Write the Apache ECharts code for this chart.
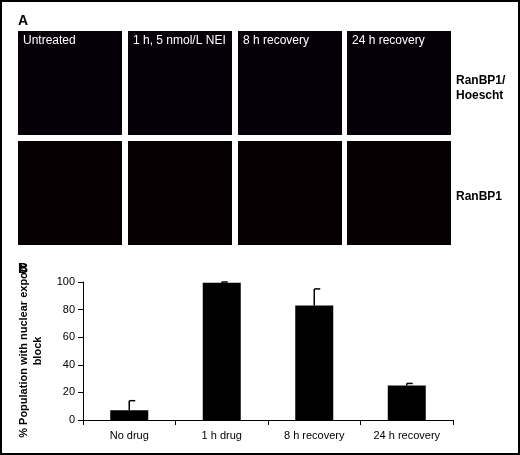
<!DOCTYPE html>
<html><head><meta charset="utf-8">
<script src="https://cdn.jsdelivr.net/npm/echarts@6/dist/echarts.min.js"></script>
<style>html,body{margin:0;padding:0;background:#fff}#c{width:520px;height:455px}</style>
</head><body><div id="c"></div>
<script>
var categories = ['No drug', '1 h drug', '8 h recovery', '24 h recovery'];
var values = [7, 99.5, 83, 25];
var errUpper = [14, 100, 95, 26.5];
var yTicks = [0, 20, 40, 60, 80, 100];
var panelTitles = ['Untreated', '1 h, 5 nmol/L NEI', '8 h recovery', '24 h recovery'];

var chart = echarts.init(document.getElementById('c'));
var font = 'Liberation Sans, Arial, sans-serif';

var panels = [];
var px = [18, 128, 238, 347];
px.forEach(function (x, i) {
    panels.push({ type: 'rect', shape: { x: x, y: 31, width: 104, height: 104 }, style: { fill: '#050008' } });
    panels.push({ type: 'rect', shape: { x: x, y: 141, width: 104, height: 104 }, style: { fill: '#060002' } });
    panels.push({ type: 'text', left: x + 5, top: 35, style: { text: panelTitles[i], fill: '#fff', font: '12px ' + font } });
});

var option = {
    backgroundColor: '#fff',
    animation: false,
    grid: { left: 83, right: 67, top: 282, bottom: 35 },
    xAxis: {
        type: 'category',
        data: categories,
        axisLine: { lineStyle: { color: '#000' } },
        axisTick: { show: true, lineStyle: { color: '#000' } },
        axisLabel: { color: '#000', fontSize: 11, fontFamily: font, margin: 10 }
    },
    yAxis: {
        type: 'value', min: 0, max: 100, interval: 20,
        name: '% Population with nuclear export\nblock',
        nameLocation: 'middle', nameGap: 38, nameRotate: 90,
        nameTextStyle: { color: '#000', fontSize: 11, fontWeight: 'bold', fontFamily: font, lineHeight: 14 },
        splitLine: { show: false },
        axisLine: { show: true, lineStyle: { color: '#000' } },
        axisTick: { show: true, lineStyle: { color: '#000' } },
        axisLabel: { color: '#000', fontSize: 11, fontFamily: font,
            formatter: function (v) { return yTicks.indexOf(v) >= 0 ? v : ''; } }
    },
    series: [{
        type: 'bar', data: values, barWidth: 38,
        itemStyle: { color: '#000' }
    }, {
        type: 'custom',
        data: categories.map(function (c, i) { return [i, values[i], errUpper[i]]; }),
        renderItem: function (params, api) {
            var b = api.coord([api.value(0), api.value(1)]);
            var t = api.coord([api.value(0), api.value(2)]);
            var s = { stroke: '#000', lineWidth: 1.5 };
            return { type: 'group', children: [
                { type: 'line', shape: { x1: b[0], y1: b[1], x2: t[0], y2: t[1] }, style: s },
                { type: 'line', shape: { x1: t[0], y1: t[1], x2: t[0] + 6, y2: t[1] }, style: s }
            ] };
        }
    }],
    graphic: [
        { type: 'rect', shape: { x: 1, y: 1, width: 518, height: 453 }, style: { fill: null, stroke: '#000', lineWidth: 2 } },
        { type: 'text', left: 18, top: 14, style: { text: 'A', fill: '#000', font: 'bold 14px ' + font } },
        { type: 'text', left: 18, top: 262, style: { text: 'B', fill: '#000', font: 'bold 14px ' + font } },
        { type: 'text', left: 456, top: 73, style: { text: 'RanBP1/\nHoescht', fill: '#000', font: 'bold 12px ' + font, lineHeight: 15 } },
        { type: 'text', left: 456, top: 191, style: { text: 'RanBP1', fill: '#000', font: 'bold 12px ' + font } }
    ].concat(panels)
};
chart.setOption(option);
</script></body></html>
